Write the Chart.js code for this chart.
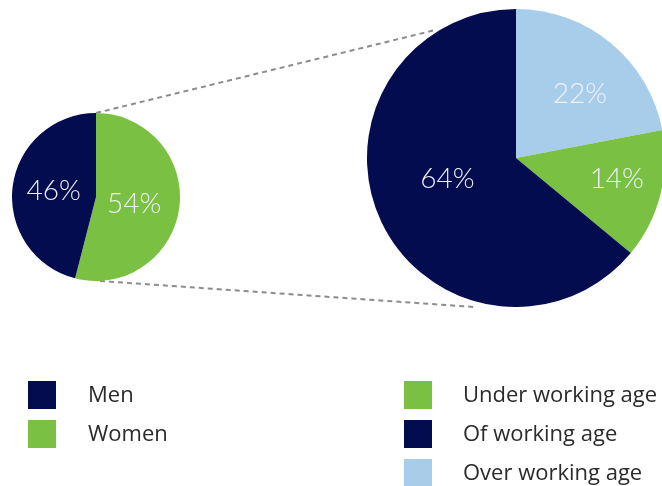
<!DOCTYPE html>
<html>
<head>
<meta charset="utf-8">
<script src="https://cdn.jsdelivr.net/npm/chart.js@4/dist/chart.umd.min.js"></script>
<style>
  body { margin: 0; width: 662px; height: 486px; overflow: hidden; background: #fff; position: relative; font-family: "Open Sans", "Noto Sans", sans-serif; }
  canvas { position: absolute; }
  #lines { left: 0; top: 0; }
  #gender-chart { left: 12px; top: 113px; }
  #age-chart { left: 367px; top: 9px; }
  .legend { position: absolute; color: #2b2b2b; font-size: 22px; }
  .legend .row { position: relative; height: 38.8px; }
  .legend .box { position: absolute; left: 0; top: 0; width: 28px; height: 28px; }
  .legend .txt { position: absolute; top: -3px; line-height: 30px; white-space: nowrap; }
</style>
</head>
<body>
<canvas id="lines" width="662" height="486"></canvas>
<canvas id="gender-chart" width="168" height="168"></canvas>
<canvas id="age-chart" width="298" height="298"></canvas>
<div class="legend" id="legend-left" style="left:28px; top:381px;"></div>
<div class="legend" id="legend-right" style="left:404px; top:381px;"></div>
<script>
// Datos
const genderLabels = ["Women", "Men"];
const genderValues = [54, 46];
const genderColors = ["#7ac143", "#040c50"];

const ageLabels = ["Over working age", "Under working age", "Of working age"];
const ageValues = [22, 14, 64];
const ageColors = ["#a8cdeb", "#7ac143", "#040c50"];

// orden de la leyenda
const genderLegend = ["Men", "Women"];
const ageLegend = ["Under working age", "Of working age", "Over working age"];

// posicion de las etiquetas: factor de radio y ajuste de angulo (grados)
const genderLabelPos = [[0.46, 2], [0.51, 2]];
const ageLabelPos = [[0.61, 5], [0.69, -3], [0.48, 9]];

// Plugin para escribir los porcentajes dentro de cada sector
const pctLabels = {
  id: "pctLabels",
  afterDatasetsDraw(chart, args, opts) {
    const ctx = chart.ctx;
    const meta = chart.getDatasetMeta(0);
    const values = chart.data.datasets[0].data;
    ctx.save();
    ctx.fillStyle = "#eef1f6";
    ctx.font = "300 28px Lato, 'Open Sans', sans-serif";
    ctx.textAlign = "center";
    ctx.textBaseline = "alphabetic";
    meta.data.forEach((arc, i) => {
      const p = arc.getProps(["x", "y", "startAngle", "endAngle", "outerRadius"], true);
      const pos = opts.pos[i];
      const mid = (p.startAngle + p.endAngle) / 2 + (pos[1] * Math.PI) / 180;
      const r = p.outerRadius * pos[0];
      ctx.fillText(values[i] + "%", p.x + Math.cos(mid) * r, p.y + Math.sin(mid) * r + 10);
    });
    ctx.restore();
  },
};

function makePie(id, labels, values, colors, pos) {
  return new Chart(document.getElementById(id).getContext("2d"), {
    type: "pie",
    data: {
      labels: labels,
      datasets: [{ data: values, backgroundColor: colors, borderWidth: 0 }],
    },
    options: {
      responsive: false,
      animation: false,
      layout: { padding: 0 },
      plugins: {
        legend: { display: false },
        tooltip: { enabled: false },
        pctLabels: { pos: pos },
      },
    },
    plugins: [pctLabels],
  });
}

const genderChart = makePie("gender-chart", genderLabels, genderValues, genderColors, genderLabelPos);
const ageChart = makePie("age-chart", ageLabels, ageValues, ageColors, ageLabelPos);

// Lineas discontinuas entre los dos graficos
function pieGeom(chart, el) {
  const a = chart.getDatasetMeta(0).data[0];
  return { x: a.x + el.offsetLeft, y: a.y + el.offsetTop, r: a.outerRadius };
}
const small = pieGeom(genderChart, document.getElementById("gender-chart"));
const big = pieGeom(ageChart, document.getElementById("age-chart"));
function onCircle(c, deg, k) {
  const t = ((deg - 90) * Math.PI) / 180;
  return [c.x + Math.cos(t) * c.r * k, c.y + Math.sin(t) * c.r * k];
}
const lc = document.getElementById("lines").getContext("2d");
lc.strokeStyle = "#8c8c8c";
lc.lineWidth = 2;
lc.setLineDash([5, 4]);
const topEnd = onCircle(big, -33, 1.02);
const botEnd = onCircle(big, 196, 1.04);
lc.beginPath();
lc.moveTo(small.x, small.y - small.r);
lc.lineTo(topEnd[0], topEnd[1]);
lc.moveTo(small.x + 4, small.y + small.r);
lc.lineTo(botEnd[0], botEnd[1]);
lc.stroke();

// Leyendas
function buildLegend(elId, names, labels, colors, textLeft) {
  const el = document.getElementById(elId);
  names.forEach((n) => {
    const row = document.createElement("div");
    row.className = "row";
    const box = document.createElement("div");
    box.className = "box";
    box.style.background = colors[labels.indexOf(n)];
    const txt = document.createElement("div");
    txt.className = "txt";
    txt.style.left = textLeft + "px";
    txt.textContent = n;
    row.appendChild(box);
    row.appendChild(txt);
    el.appendChild(row);
  });
}
buildLegend("legend-left", genderLegend, genderLabels, genderColors, 60);
buildLegend("legend-right", ageLegend, ageLabels, ageColors, 59);
</script>
</body>
</html>
